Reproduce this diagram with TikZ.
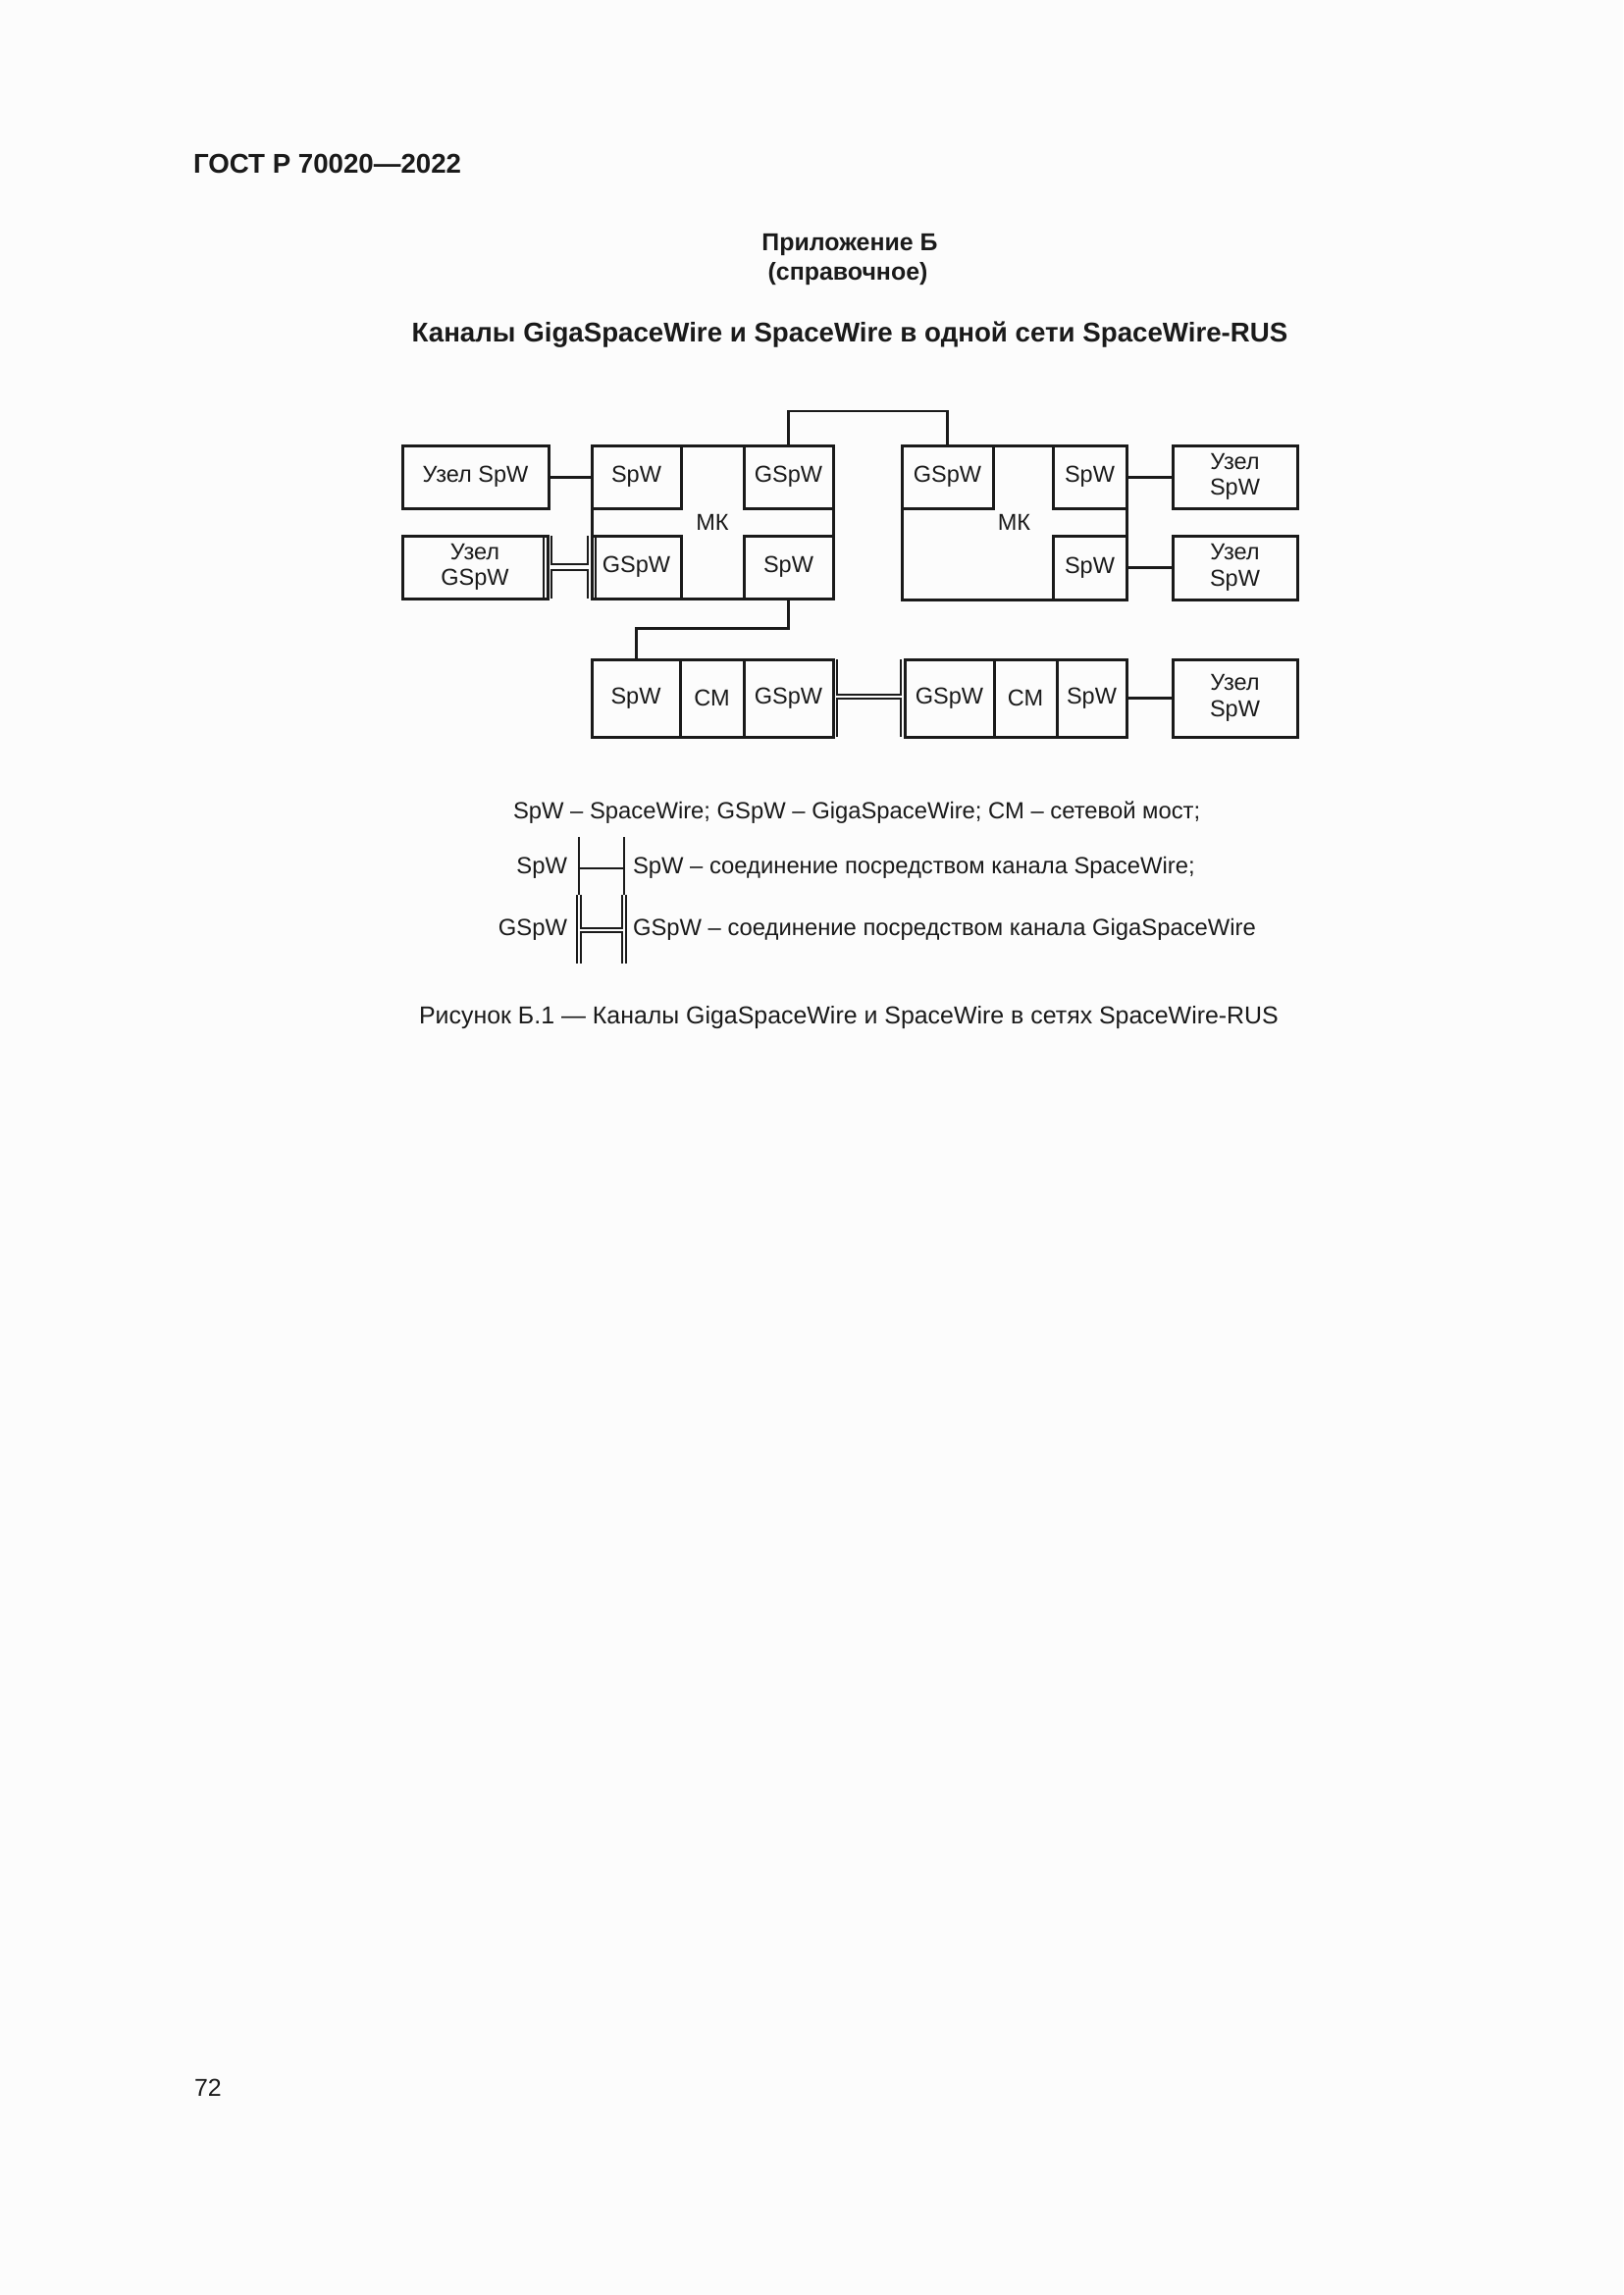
\documentclass[tikz,border=0pt]{standalone}
\usepackage{fontspec}
\setmainfont{Liberation Sans}
\usetikzlibrary{calc}
\definecolor{ink}{RGB}{26,26,26}
\definecolor{paper}{RGB}{252,252,252}
\pgfdeclarelayer{bg}\pgfdeclarelayer{mid}\pgfsetlayers{bg,mid,main}
\newcommand\mkbox[6]{\node[box, minimum width={(#4-#2)*0.126965mm}, minimum height={(#5-#3)*0.126965mm}] (#1) at ({(#2+#4)/2},{(#3+#5)/2}) {#6};}
\begin{document}
\begin{tikzpicture}[x=0.126965mm, y=-0.126965mm,
  box/.style={draw=ink, line width=0.38mm, inner sep=0pt, outer sep=0pt, font=\fontsize{8.5}{9.6}\selectfont, align=center, text=ink},
  conn/.style={draw=ink, line width=0.38mm},
  thinl/.style={draw=ink, line width=0.26mm},
  gblack/.style={draw=ink, line width=#1*0.126965mm},
  gwhite/.style={draw=paper, line width=#1*0.126965mm},
  txt/.style={inner sep=0pt, outer sep=0pt, text=ink},
  lg/.style={txt, font=\fontsize{8.6}{10}\selectfont}]
\begin{pgfonlayer}{bg}
\fill[paper] (0,0) rectangle (1654,2339);
\end{pgfonlayer}
\useasboundingbox (0,0) rectangle (1654,2339);

% header texts
\node[txt, anchor=base west, font=\fontsize{10}{12}\selectfont\bfseries] (hdr) at (197,177) {ГОСТ Р 70020—2022};
\node[txt, anchor=base, font=\fontsize{9}{11}\selectfont\bfseries] (app) at (866,255) {Приложение Б};
\node[txt, anchor=base, font=\fontsize{9}{11}\selectfont\bfseries] (ref) at (864,285) {(справочное)};
\node[txt, anchor=base, font=\fontsize{10}{12}\selectfont\bfseries] (ttl) at (866,348) {Каналы GigaSpaceWire и SpaceWire в одной сети SpaceWire-RUS};

% left router
\mkbox{mkL}{603}{454}{849}{610}{МК}
\mkbox{LSpWa}{603}{454}{694}{518}{SpW}
\mkbox{LGSpWa}{758}{454}{849}{518}{GSpW}
\mkbox{LGSpWb}{603}{546}{694}{610}{GSpW}
\mkbox{LSpWb}{758}{546}{849}{610}{SpW}
\mkbox{uzSpW}{410}{454}{559}{518}{Узел SpW}
\mkbox{uzGSpW}{410}{546}{558}{610}{Узел\\GSpW}

% right router
\mkbox{mkR}{919}{454}{1148}{611}{МК}
\mkbox{RGSpW}{919}{454}{1012}{518}{GSpW}
\mkbox{RSpWa}{1073}{454}{1148}{518}{SpW}
\mkbox{RSpWb}{1073}{546}{1148}{611}{SpW}
\mkbox{uzRa}{1195}{454}{1322}{518}{Узел\\SpW}
\mkbox{uzRb}{1195}{546}{1322}{611}{Узел\\SpW}

% bridges
\mkbox{bLSpW}{603}{672}{693}{751}{SpW}
\mkbox{bLCM}{693}{672}{758}{751}{СМ}
\mkbox{bLGSpW}{758}{672}{849}{751}{GSpW}
\mkbox{bRGSpW}{922}{672}{1013}{751}{GSpW}
\mkbox{bRCM}{1013}{672}{1077}{751}{СМ}
\mkbox{bRSpW}{1077}{672}{1148}{751}{SpW}
\mkbox{uzRc}{1195}{672}{1322}{751}{Узел\\SpW}

% SpaceWire links
\coordinate (topbar) at (0,419);
\coordinate (midbar) at (0,640);
\draw[conn] (uzSpW.east) -- (LSpWa.west);
\draw[conn] (LGSpWa.north) -- (LGSpWa.north |- topbar) -| (RGSpW.north);
\draw[conn] (LSpWb.south) -- (LSpWb.south |- midbar) -| (bLSpW.north);
\draw[conn] (RSpWa.east) -- (uzRa.west);
\draw[conn] (RSpWb.east) -- (uzRb.west);
\draw[conn] (bRSpW.east) -- (uzRc.west);

% GigaSpaceWire links (outlined "H" connectors)
\begin{pgfonlayer}{mid}
\draw[gblack=10] (uzGSpW.north east) -- (uzGSpW.south east)
                 (LGSpWb.north west) -- (LGSpWb.south west);
\draw[gblack=7.5] (uzGSpW.east) -- (LGSpWb.west);
\draw[gwhite=6] (uzGSpW.north east) -- (uzGSpW.south east)
                (LGSpWb.north west) -- (LGSpWb.south west);
\draw[gwhite=3.5] (uzGSpW.east) -- (LGSpWb.west);

\coordinate (bA1) at ($(bLGSpW.north east)+(2,0)$);
\coordinate (bA2) at ($(bLGSpW.south east)+(2,0)$);
\coordinate (bB1) at ($(bRGSpW.north west)+(-2,0)$);
\coordinate (bB2) at ($(bRGSpW.south west)+(-2,0)$);
\coordinate (bAm) at ($(bLGSpW.east)+(2,-1.5)$);
\coordinate (bBm) at ($(bRGSpW.west)+(-2,-1.5)$);
\draw[gblack=6] (bA1) -- (bA2) (bB1) -- (bB2);
\draw[gblack=5.5] (bAm) -- (bBm);
\draw[gwhite=2] (bA1) -- (bA2) (bB1) -- (bB2) (bAm) -- (bBm);
\end{pgfonlayer}

% legend
\node[lg, anchor=base west] (lg1) at (523,834) {SpW – SpaceWire; GSpW – GigaSpaceWire; СМ – сетевой мост;};
\node[lg, anchor=base east] (lgs) at (578,890) {SpW};
\node[lg, anchor=base west] (lgs2) at (645,890) {SpW – соединение посредством канала SpaceWire;};
\node[lg, anchor=base east] (lgg) at (578,953) {GSpW};
\node[lg, anchor=base west] (lgg2) at (645,953) {GSpW – соединение посредством канала GigaSpaceWire};
\coordinate (la1) at (590,853); \coordinate (la2) at (590,912); \coordinate (la3) at (590,982);
\coordinate (lb1) at (636,853); \coordinate (lb2) at (636,912); \coordinate (lb3) at (636,982);
\coordinate (lam) at (590,948); \coordinate (lbm) at (636,948);
\draw[thinl] (la1) -- (la2) (lb1) -- (lb2) (590,885) -- (636,885);
\draw[gblack=6.5] (la2) -- (la3) (lb2) -- (lb3);
\draw[gblack=6] (lam) -- (lbm);
\draw[gwhite=2] (la2) -- (la3) (lb2) -- (lb3) (lam) -- (lbm);

% caption and page number
\node[txt, anchor=base, font=\fontsize{9}{11}\selectfont] (cap) at (865,1043) {Рисунок Б.1 — Каналы GigaSpaceWire и SpaceWire в сетях SpaceWire-RUS};
\node[txt, anchor=base west, font=\fontsize{9}{11}\selectfont] (pg) at (198,2136) {72};
\end{tikzpicture}
\end{document}
